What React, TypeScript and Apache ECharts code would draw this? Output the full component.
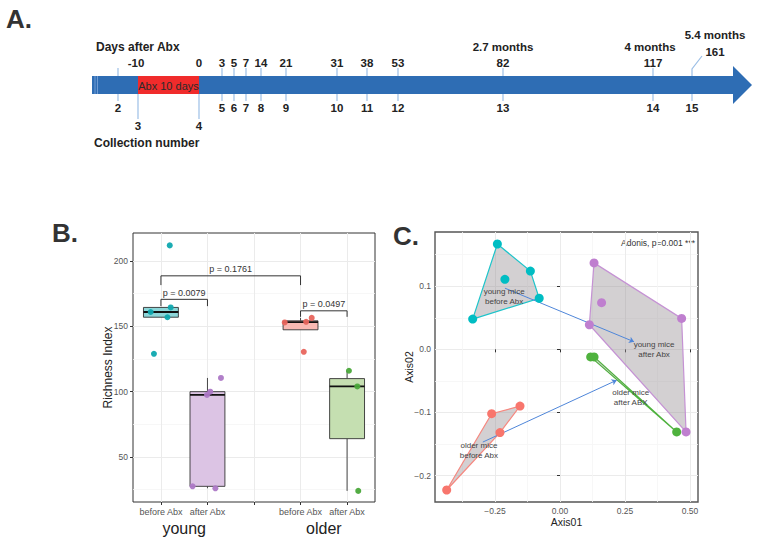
import React, { useEffect, useRef } from "react";
import * as echarts from "echarts";

// ---------------- Panel A: sampling timeline ----------------
const collectionNumbers = ["2", "3", "4", "5", "6", "7", "8", "9", "10", "11", "12", "13", "14", "15"];
const daysAfterAbx = ["", "-10", "0", "3", "5", "7", "14", "21", "31", "38", "53", "82", "117", "161"];
const monthLabels = ["", "", "", "", "", "", "", "", "", "", "", "2.7 months", "4 months", "5.4 months"];

// ---------------- Panel B: richness boxplots ----------------
const richnessCategories = ["before Abx", "after Abx", "", "before Abx", "after Abx"];
const ageGroups = ["young", "older"];
const youngBeforeRichness = [212, 129, 161, 164.5, 157];
const youngBeforeJitter = [1.19, 0.85, 0.78, 1.21, 1.14];
const youngAfterRichness = [110.5, 100, 97.5, 27.5, 26];
const youngAfterJitter = [2.29, 2.06, 1.99, 1.68, 2.17];
const olderBeforeRichness = [153, 153.5, 156.5, 130.5];
const olderBeforeJitter = [3.66, 4.12, 4.24, 4.07];
const olderAfterRichness = [116, 104, 24];
const olderAfterJitter = [5.04, 5.22, 5.24];
const pLabels = ["p = 0.1761", "p = 0.0079", "p = 0.0497"];
const pFrom = [1, 1, 4];
const pTo = [4, 2, 5];
const pBarLevel = [188.7, 170.7, 161.9];
const pLegLevel = [181.6, 165.5, 157.3];

// ---------------- Panel C: ordination ----------------
const youngBeforeAxis01 = [-0.241, -0.114, -0.212, -0.08, -0.336];
const youngBeforeAxis02 = [0.167, 0.124, 0.111, 0.081, 0.048];
const youngAfterAxis01 = [0.131, 0.16, 0.113, 0.468, 0.485];
const youngAfterAxis02 = [0.137, 0.074, 0.039, 0.049, -0.131];
const olderAfterAxis01 = [0.118, 0.131, 0.449];
const olderAfterAxis02 = [-0.012, -0.012, -0.131];
const olderBeforeAxis01 = [-0.263, -0.154, -0.231, -0.436];
const olderBeforeAxis02 = [-0.102, -0.09, -0.132, -0.223];
const shiftFrom = [[-0.212, 0.097], [-0.297, -0.147]];
const shiftTo = [[0.285, 0.012], [0.218, -0.049]];
const groupLabels = ["young mice\nbefore Abx", "young mice\nafter Abx", "older mice\nafter ABX", "older mice\nbefore Abx"];
const groupLabelAxis01 = [-0.215, 0.362, 0.272, -0.312];
const groupLabelAxis02 = [0.0835, -0.001, -0.0757, -0.161];
const adonisText = "Adonis, p=0.001 ***";

// ---------------- helpers ----------------
const FONT = '"Liberation Sans", Arial, sans-serif';
const BLUE = "#2e6db4";
const TICK_BLUE = "#9cbfe6";

function q7(sorted: number[], p: number) {
  const h = (sorted.length - 1) * p;
  const lo = Math.floor(h);
  const hi = Math.min(lo + 1, sorted.length - 1);
  return sorted[lo] + (h - lo) * (sorted[hi] - sorted[lo]);
}
function boxStats(values: number[]) {
  const s = [...values].sort((a, b) => a - b);
  const q1 = q7(s, 0.25), med = q7(s, 0.5), q3 = q7(s, 0.75);
  const iqr = q3 - q1;
  const lo = Math.min(...s.filter((v) => v >= q1 - 1.5 * iqr));
  const hi = Math.max(...s.filter((v) => v <= q3 + 1.5 * iqr));
  return { q1, med, q3, lo: Math.min(lo, q1), hi: Math.max(hi, q3) };
}
function hull(xs: number[], ys: number[]) {
  const pts = xs.map((x, i) => [x, ys[i]]).sort((a, b) => a[0] - b[0] || a[1] - b[1]);
  const cross = (o: number[], a: number[], b: number[]) => (a[0] - o[0]) * (b[1] - o[1]) - (a[1] - o[1]) * (b[0] - o[0]);
  const lower: number[][] = [];
  for (const p of pts) {
    while (lower.length >= 2 && cross(lower[lower.length - 2], lower[lower.length - 1], p) <= 0) lower.pop();
    lower.push(p);
  }
  const upper: number[][] = [];
  for (let i = pts.length - 1; i >= 0; i--) {
    const p = pts[i];
    while (upper.length >= 2 && cross(upper[upper.length - 2], upper[upper.length - 1], p) <= 0) upper.pop();
    upper.push(p);
  }
  upper.pop();
  lower.pop();
  return lower.concat(upper);
}

const boxGroups = [
  { x: 1, values: youngBeforeRichness, jitter: youngBeforeJitter, fill: "#8cd6d9", point: "#0fa8af" },
  { x: 2, values: youngAfterRichness, jitter: youngAfterJitter, fill: "#dcc4e4", point: "#ad78c6" },
  { x: 4, values: olderBeforeRichness, jitter: olderBeforeJitter, fill: "#f9b9b3", point: "#e8655d" },
  { x: 5, values: olderAfterRichness, jitter: olderAfterJitter, fill: "#c5dfb1", point: "#4aa83a" },
];

const ordGroups = [
  { xs: youngBeforeAxis01, ys: youngBeforeAxis02, color: "#00bdc3", edge: "#1cc4ca" },
  { xs: youngAfterAxis01, ys: youngAfterAxis02, color: "#bf7fcf", edge: "#c592d4" },
  { xs: olderAfterAxis01, ys: olderAfterAxis02, color: "#4fb23e", edge: "#4fb23e" },
  { xs: olderBeforeAxis01, ys: olderBeforeAxis02, color: "#f8766d", edge: "#f6877f" },
];

function timelineGraphics() {
  const TL_X = [118, 138, 199, 222, 234, 246, 261, 286, 337, 367, 398, 503, 653, 692];
  const els: any[] = [];
  const txt = (text: string, x: number, y: number, size: number, bold = true, align = "center", fill = "#222") => ({
    type: "text",
    x,
    y,
    style: { text, fill, fontSize: size, fontWeight: bold ? "bold" : "normal", fontFamily: FONT, align, verticalAlign: "middle" },
  });
  els.push({ type: "rect", shape: { x: 92, y: 76, width: 643, height: 18 }, style: { fill: BLUE } });
  els.push({ type: "polygon", shape: { points: [[733, 66], [752, 85], [733, 104]] }, style: { fill: BLUE } });
  els.push({ type: "line", shape: { x1: 95, y1: 76, x2: 95, y2: 94 }, style: { stroke: "#6f9bd3", lineWidth: 1 } });
  els.push({ type: "line", shape: { x1: 97.5, y1: 76, x2: 97.5, y2: 94 }, style: { stroke: "#6f9bd3", lineWidth: 1 } });
  els.push({ type: "rect", shape: { x: 138, y: 76, width: 61, height: 18 }, style: { fill: "#f02b2b" } });
  els.push(txt("Abx 10 days", 168.5, 85.5, 11, false, "center", "#2a2a2a"));
  els.push(txt("Days after Abx", 96, 47, 12, true, "left"));
  els.push(txt("Collection number", 94, 143, 12, true, "left"));
  els.push(txt("A.", 6, 19, 26, true, "left", "#333"));
  const n = collectionNumbers.length;
  TL_X.forEach((x, i) => {
    const long = i === 1 || i === 2;
    const last = i === n - 1;
    if (!long) {
      if (last) {
        els.push({ type: "polyline", shape: { points: [[x, 76], [x, 69], [x + 10, 56]] }, style: { stroke: TICK_BLUE, lineWidth: 1.2, fill: "none" } });
      } else {
        els.push({ type: "line", shape: { x1: x, y1: 68, x2: x, y2: 76 }, style: { stroke: TICK_BLUE, lineWidth: 1.2 } });
      }
    }
    els.push({ type: "line", shape: { x1: x, y1: 94, x2: x, y2: long ? 119 : 101 }, style: { stroke: TICK_BLUE, lineWidth: 1.2 } });
    els.push(txt(collectionNumbers[i], x, long ? 126 : 108, 11.5));
    if (daysAfterAbx[i]) {
      els.push(txt(daysAfterAbx[i], last ? x + 23 : i === 1 ? x - 2 : x, last ? 52 : 63, 11.5));
    }
    if (monthLabels[i]) {
      els.push(txt(monthLabels[i], last ? x + 23 : x - (i === 12 ? 3 : 0), last ? 35 : 47, 11.5));
    }
  });
  els.push(txt("B.", 52, 233, 26, true, "left", "#333"));
  els.push(txt("C.", 393, 236, 26, true, "left", "#333"));
  els.push({
    type: "text",
    x: 695,
    y: 243,
    style: { text: adonisText, fill: "#333", fontSize: 8.5, fontFamily: FONT, align: "right", verticalAlign: "middle" },
  });
  return els;
}

const tickStyle = { show: true, length: 3, lineStyle: { color: "#333", width: 1 } };
const labelStyle = { color: "#555", fontSize: 8.5, fontFamily: FONT };
const major = { show: true, lineStyle: { color: "#ebebeb", width: 1 } };
const minor = { show: true, lineStyle: { color: "#f5f5f5", width: 0.8 } };

export default function App() {
  const ref = useRef<HTMLDivElement>(null);
  useEffect(() => {
    if (!ref.current) return;
    const chart = echarts.init(ref.current, null, { renderer: "svg" });
    const stats = boxGroups.map((g) => boxStats(g.values));
    const hulls = ordGroups.map((g) => hull(g.xs, g.ys));

    const series: any[] = [];
    series.push({
      type: "custom",
      xAxisIndex: 0,
      yAxisIndex: 0,
      data: boxGroups.map((g, i) => [g.x, stats[i].med]),
      encode: { x: 0, y: 1 },
      renderItem: (params: any, api: any) => {
        const i = params.dataIndex;
        const g = boxGroups[i];
        const s = stats[i];
        const half = api.size([0.75, 0])[0] / 2;
        const cx = api.coord([g.x, s.med])[0];
        const y = (v: number) => api.coord([g.x, v])[1];
        const line = { stroke: "#333", lineWidth: 0.9 };
        return {
          type: "group",
          children: [
            { type: "line", shape: { x1: cx, y1: y(s.q3), x2: cx, y2: y(s.hi) }, style: line },
            { type: "line", shape: { x1: cx, y1: y(s.q1), x2: cx, y2: y(s.lo) }, style: line },
            { type: "rect", shape: { x: cx - half, y: y(s.q3), width: 2 * half, height: y(s.q1) - y(s.q3) }, style: { fill: g.fill, stroke: "#333", lineWidth: 0.9 } },
            { type: "line", shape: { x1: cx - half, y1: y(s.med), x2: cx + half, y2: y(s.med) }, style: { stroke: "#111", lineWidth: 1.8 } },
          ],
        };
      },
    });
    boxGroups.forEach((g) => {
      series.push({
        type: "scatter",
        xAxisIndex: 0,
        yAxisIndex: 0,
        symbolSize: 6,
        itemStyle: { color: g.point, opacity: 0.95 },
        data: g.values.map((v, k) => [g.jitter[k], v]),
      });
    });
    series.push({
      type: "custom",
      xAxisIndex: 0,
      yAxisIndex: 0,
      data: pLabels.map((_, i) => [pFrom[i], pBarLevel[i]]),
      encode: { x: 0, y: 1 },
      renderItem: (params: any, api: any) => {
        const i = params.dataIndex;
        const a = api.coord([pFrom[i], pLegLevel[i]]);
        const b = api.coord([pFrom[i], pBarLevel[i]]);
        const c = api.coord([pTo[i], pBarLevel[i]]);
        const d = api.coord([pTo[i], pLegLevel[i]]);
        return {
          type: "group",
          children: [
            { type: "polyline", shape: { points: [a, b, c, d] }, style: { stroke: "#333", lineWidth: 1, fill: "none" } },
            {
              type: "text",
              x: (b[0] + c[0]) / 2,
              y: b[1] - 2,
              style: { text: pLabels[i], fill: "#333", fontSize: 9, fontFamily: FONT, align: "center", verticalAlign: "bottom" },
            },
          ],
        };
      },
    });
    series.push({
      type: "custom",
      xAxisIndex: 2,
      yAxisIndex: 2,
      data: ordGroups.map((g) => [g.xs[0], g.ys[0]]),
      encode: { x: 0, y: 1 },
      renderItem: (params: any, api: any) => {
        const i = params.dataIndex;
        return {
          type: "polygon",
          shape: { points: hulls[i].map((p) => api.coord(p)) },
          style: { fill: "rgba(150,143,147,0.42)", stroke: ordGroups[i].edge, lineWidth: 1.2 },
        };
      },
    });
    series.push({
      type: "lines",
      coordinateSystem: "cartesian2d",
      xAxisIndex: 2,
      yAxisIndex: 2,
      symbol: ["none", "arrow"],
      symbolSize: 5,
      lineStyle: { color: "#4f86d9", width: 1, opacity: 1, curveness: 0 },
      data: shiftFrom.map((f, i) => ({ coords: [f, shiftTo[i]] })),
    });
    ordGroups.forEach((g) => {
      series.push({
        type: "scatter",
        xAxisIndex: 2,
        yAxisIndex: 2,
        symbolSize: 9,
        itemStyle: { color: g.color, opacity: 1 },
        data: g.xs.map((x, k) => [x, g.ys[k]]),
      });
    });
    series.push({
      type: "custom",
      xAxisIndex: 2,
      yAxisIndex: 2,
      data: groupLabels.map((_, i) => [groupLabelAxis01[i], groupLabelAxis02[i]]),
      encode: { x: 0, y: 1 },
      renderItem: (params: any, api: any) => {
        const i = params.dataIndex;
        const p = api.coord([groupLabelAxis01[i], groupLabelAxis02[i]]);
        return {
          type: "text",
          x: p[0],
          y: p[1],
          style: { text: groupLabels[i], fill: "#444", fontSize: 8, lineHeight: 10, fontFamily: FONT, align: "center", verticalAlign: "middle" },
        };
      },
    });

    const fmtC = (v: number, d: number) => (v < 0 ? "\u2212" + Math.abs(v).toFixed(d) : v.toFixed(d));

    chart.setOption({
      animation: false,
      textStyle: { fontFamily: FONT },
      grid: [
        { left: 133, top: 233, width: 242, height: 269, show: true, borderColor: "#333", borderWidth: 1, backgroundColor: "#fff", containLabel: false, outerBoundsMode: "none" },
        { left: 435, top: 232, width: 263, height: 270, show: true, borderColor: "#555", borderWidth: 1.4, backgroundColor: "#fff", containLabel: false, outerBoundsMode: "none" },
      ],
      xAxis: [
        {
          type: "value", gridIndex: 0, min: 0.4, max: 5.6, position: "bottom",
          axisLine: { show: false },
          axisTick: { ...tickStyle, customValues: [1, 2, 3, 4, 5] },
          axisLabel: { ...labelStyle, fontSize: 9, margin: 5, customValues: [1, 2, 4, 5], formatter: (v: number) => richnessCategories[Math.round(v) - 1] },
          splitLine: major,
        },
        {
          type: "value", gridIndex: 0, min: 0.4, max: 5.6, position: "bottom",
          axisLine: { show: false },
          axisTick: { show: false, customValues: [1.5, 4.5] },
          axisLabel: { color: "#222", fontSize: 16, fontFamily: FONT, margin: 18, customValues: [1.5, 4.5], formatter: (v: number) => (v < 3 ? ageGroups[0] : ageGroups[1]) },
          splitLine: { show: false },
        },
        {
          type: "value", gridIndex: 1, min: -0.481, max: 0.531, position: "bottom",
          axisLine: { show: false },
          axisTick: { ...tickStyle, customValues: [-0.25, 0, 0.25, 0.5] },
          axisLabel: { ...labelStyle, margin: 4, customValues: [-0.25, 0, 0.25, 0.5], formatter: (v: number) => fmtC(v, 2) },
          splitLine: major,
          name: "Axis01", nameLocation: "middle", nameGap: 14, nameMoveOverlap: false,
          nameTextStyle: { color: "#222", fontSize: 10.5, fontFamily: FONT, verticalAlign: "top" },
        },
        {
          type: "value", gridIndex: 1, min: -0.481, max: 0.531, position: "bottom",
          axisLine: { show: false },
          axisTick: { show: false, customValues: [-0.375, -0.125, 0.125, 0.375] },
          axisLabel: { show: false, customValues: [-0.375, -0.125, 0.125, 0.375] },
          splitLine: minor,
        },
      ],
      yAxis: [
        {
          type: "value", gridIndex: 0, min: 15.5, max: 221.5, position: "left",
          axisLine: { show: false },
          axisTick: { ...tickStyle, customValues: [50, 100, 150, 200] },
          axisLabel: { ...labelStyle, margin: 5, customValues: [50, 100, 150, 200] },
          splitLine: major,
          name: "Richness Index", nameLocation: "middle", nameGap: 19, nameMoveOverlap: false,
          nameTextStyle: { color: "#222", fontSize: 12, fontFamily: FONT },
        },
        {
          type: "value", gridIndex: 0, min: 15.5, max: 221.5, position: "left",
          axisLine: { show: false },
          axisTick: { show: false, customValues: [25, 75, 125, 175] },
          axisLabel: { show: false, customValues: [25, 75, 125, 175] },
          splitLine: minor,
        },
        {
          type: "value", gridIndex: 1, min: -0.242, max: 0.186, position: "left",
          axisLine: { show: false },
          axisTick: { ...tickStyle, customValues: [-0.2, -0.1, 0, 0.1] },
          axisLabel: { ...labelStyle, margin: 4, customValues: [-0.2, -0.1, 0, 0.1], formatter: (v: number) => fmtC(v, 1) },
          splitLine: major,
          name: "Axis02", nameLocation: "middle", nameGap: 21, nameMoveOverlap: false,
          nameTextStyle: { color: "#222", fontSize: 10.5, fontFamily: FONT },
        },
        {
          type: "value", gridIndex: 1, min: -0.242, max: 0.186, position: "left",
          axisLine: { show: false },
          axisTick: { show: false, customValues: [-0.15, -0.05, 0.05, 0.15] },
          axisLabel: { show: false, customValues: [-0.15, -0.05, 0.05, 0.15] },
          splitLine: minor,
        },
      ],
      graphic: { elements: timelineGraphics() },
      series,
    });
    return () => chart.dispose();
  }, []);
  return <div ref={ref} style={{ position: "absolute", left: 0, top: 0, width: 758, height: 543, background: "#fff" }} />;
}
